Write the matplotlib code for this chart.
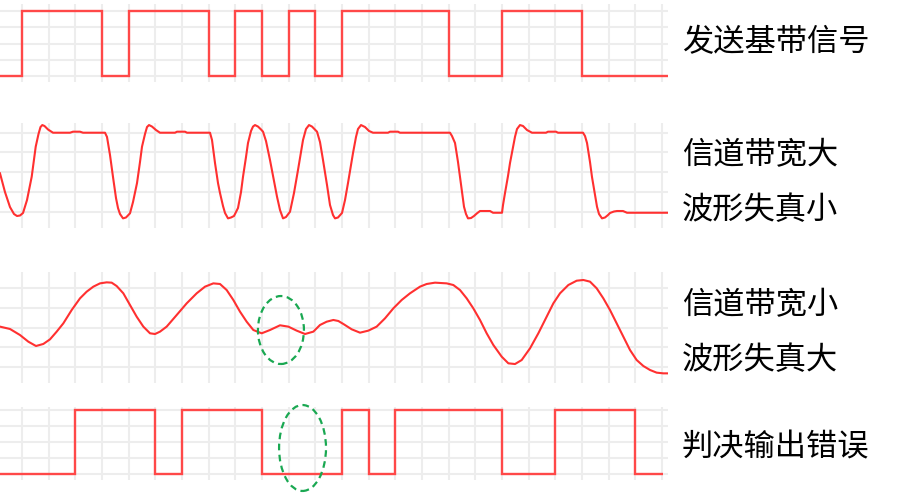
import matplotlib
matplotlib.use("Agg")
import matplotlib.pyplot as plt
from matplotlib.patches import Ellipse

plt.rcParams['font.family'] = ['Noto Sans CJK SC', 'DejaVu Sans']

W, H = 900, 493

# ---- data (time in bit periods, amplitude normalised 0..1) ----
tx_edges = [-0.825, 0, 3, 4, 7, 8, 9, 10, 11, 12, 16, 18, 21, 24.225]
tx_levels = [0, 1, 0, 1, 0, 1, 0, 1, 0, 1, 0, 1, 0]

# wide channel: small distortion
wide_t = [-0.825, -0.638, -0.45, -0.3, -0.188, -0.075, 0.038, 0.188, 0.364, 0.514,
          0.619, 0.694, 0.761, 0.844, 0.975, 1.163, 1.8, 1.913, 2.175, 2.288, 3.113,
          3.188, 3.3, 3.413, 3.525, 3.6, 3.675, 3.788, 3.9, 4.05, 4.163, 4.313, 4.425,
          4.5, 4.613, 4.688, 4.763, 4.875, 5.025, 5.175, 5.738, 5.813, 6.113, 6.188, 7.05,
          7.125, 7.238, 7.35, 7.425, 7.538, 7.613, 7.725, 7.838, 7.95, 8.1, 8.213, 8.288,
          8.4, 8.475, 8.588, 8.663, 8.738, 8.85, 8.963, 9.038,
          9.15, 9.3, 9.45, 9.563, 9.675, 9.788, 9.9, 10.05, 10.2, 10.35, 10.463, 10.538,
          10.65, 10.763, 10.875, 11.063,
          11.175, 11.288, 11.438, 11.55, 11.663, 11.738, 11.85, 12.0, 12.113, 12.225,
          12.338, 12.413, 12.525, 12.6, 12.713, 12.863, 13.013, 13.163, 13.725, 13.8,
          14.1, 14.175, 16.05,
          16.125, 16.238, 16.35, 16.425, 16.5, 16.575, 16.65, 16.725, 16.838, 16.95,
          17.063, 17.175, 17.55, 17.663, 18.0,
          18.038, 18.113, 18.225, 18.3, 18.413, 18.488, 18.563, 18.675, 18.788, 18.938,
          19.125, 19.65, 19.725, 20.025, 20.1, 21.038,
          21.113, 21.188, 21.3, 21.375, 21.488, 21.563, 21.638, 21.75, 21.863, 21.975,
          22.05, 22.2, 22.313, 22.538, 22.688, 24.225]
wide_v = [0.486, 0.249, 0.059, -0.029, -0.054, -0.048, -0.016, 0.148, 0.443, 0.823,
          0.984, 1.072, 1.097, 1.085, 1.041, 1.0, 1.0, 1.013, 1.013, 1.0, 1.0,
          0.946, 0.718, 0.439, 0.173, 0.047, -0.029, -0.084, -0.073, -0.020, 0.123, 0.363, 0.629,
          0.823, 0.984, 1.072, 1.097, 1.078, 1.034, 1.0, 1.0, 1.013, 1.013, 1.0, 1.0,
          0.908, 0.616, 0.363, 0.237, 0.072, -0.016, -0.084, -0.073, -0.054, 0.047, 0.249, 0.443,
          0.692, 0.870, 1.022, 1.078, 1.097, 1.078, 1.041, 1.013,
          0.895, 0.654, 0.389, 0.190, 0.022, -0.084, -0.067, 0.0, 0.237, 0.528, 0.756, 0.908,
          1.047, 1.097, 1.078, 1.013,
          0.882, 0.654, 0.338, 0.085, -0.042, -0.084, -0.073, -0.016, 0.148, 0.363,
          0.591, 0.743, 0.946, 1.047, 1.097, 1.072, 1.022, 1.0, 1.0, 1.013,
          1.013, 1.0, 1.0,
          0.958, 0.870, 0.629, 0.439, 0.249, 0.063, -0.029, -0.084, -0.080, -0.054,
          -0.020, 0.009, 0.009, -0.013, -0.013,
          0.085, 0.237, 0.452, 0.616, 0.819, 0.949, 1.047, 1.097, 1.085, 1.034,
          1.0, 1.0, 1.013, 1.013, 1.0, 1.0,
          0.958, 0.870, 0.629, 0.439, 0.211, 0.063, -0.029, -0.084, -0.073, -0.042,
          -0.016, 0.003, 0.009, 0.009, -0.013, -0.013]

# narrow channel: large distortion
narrow_t = [-0.825, -0.45, -0.075, 0.238, 0.525, 0.8, 1.05, 1.3, 1.55, 1.863,
            2.175, 2.425, 2.675, 2.925, 3.175, 3.363, 3.55, 3.8, 4.05, 4.3,
            4.55, 4.8, 4.988, 5.175, 5.425, 5.8, 6.175, 6.55, 6.863, 7.175,
            7.425, 7.675, 7.925, 8.175, 8.425, 8.675, 8.988, 9.3, 9.675, 9.988,
            10.3, 10.613, 10.925, 11.175, 11.425, 11.675, 11.863, 12.05, 12.363, 12.675,
            12.988, 13.3, 13.613, 13.925, 14.238, 14.55, 14.925, 15.175, 15.488, 15.925,
            16.175, 16.425, 16.675, 16.925, 17.175, 17.425, 17.675, 17.988, 18.238, 18.488,
            18.738, 19.05, 19.363, 19.675, 19.925, 20.175, 20.488, 20.8, 21.05, 21.3,
            21.55, 21.8, 22.05, 22.3, 22.55, 22.8, 23.05, 23.3, 23.55, 23.8,
            24.05, 24.225]
narrow_v = [0.511, 0.481, 0.404, 0.319, 0.264, 0.290, 0.349, 0.447, 0.553, 0.723,
            0.872, 0.957, 1.021, 1.063, 1.076, 1.072, 1.029, 0.936, 0.787, 0.638,
            0.511, 0.426, 0.417, 0.447, 0.511, 0.659, 0.808, 0.936, 1.021, 1.063,
            1.055, 0.978, 0.851, 0.702, 0.574, 0.468, 0.426, 0.468, 0.528, 0.511,
            0.460, 0.417, 0.447, 0.532, 0.574, 0.596, 0.583, 0.545, 0.477, 0.434,
            0.460, 0.511, 0.617, 0.744, 0.851, 0.936, 1.021, 1.055, 1.072, 1.063,
            1.042, 0.978, 0.872, 0.744, 0.596, 0.426, 0.277, 0.128, 0.043, 0.034,
            0.085, 0.234, 0.426, 0.638, 0.808, 0.936, 1.042, 1.097, 1.106, 1.085,
            1.0, 0.872, 0.723, 0.553, 0.383, 0.213, 0.085, 0.009, -0.042, -0.076,
            -0.085, -0.085]

rx_edges = [-0.825, 2, 5, 6, 9, 12, 13, 14, 18, 20, 23, 24.03]
rx_levels = [0, 1, 0, 1, 0, 1, 0, 1, 0, 1, 0]

labels = ["发送基带信号", "信道带宽大", "波形失真小", "信道带宽小", "波形失真大", "判决输出错误"]
label_y = [42, 155, 210, 305, 360, 447]

# ---- layout (pixel boxes of each strip) ----
panels = [(4, 82, -0.092, 1.108), (123, 228, -0.206, 1.123),
          (272, 383, -0.208, 1.208), (407, 480, -0.089, 1.047)]
grid_c = '#ededed'
red = '#ff3030'

fig = plt.figure(figsize=(W / 100, H / 100), dpi=100)
axes = []
for top, bot, ylo, yhi in panels:
    ax = fig.add_axes([0, 1 - bot / H, 668 / W, (bot - top) / H])
    ax.set_xlim(-0.825, 24.225)
    ax.set_ylim(ylo, yhi)
    ax.set_xticks(range(25))
    ax.set_yticks([0, 0.25, 0.5, 0.75, 1.0])
    ax.grid(True, color=grid_c, linewidth=1.5)
    ax.tick_params(length=0, labelbottom=False, labelleft=False)
    for s in ax.spines.values():
        s.set_visible(False)
    ax.set_axisbelow(True)
    axes.append(ax)

axes[0].stairs(tx_levels, tx_edges, baseline=None, color='#ff4848', linewidth=1.7)
axes[1].plot(wide_t, wide_v, color=red, linewidth=1.5)
axes[2].plot(narrow_t, narrow_v, color=red, linewidth=1.5)
axes[3].stairs(rx_levels, rx_edges, baseline=None, color='#ff4848', linewidth=1.7)

green = '#1aa852'
axes[2].add_patch(Ellipse((9.71, 0.468), 1.725, 0.867, fill=False, edgecolor=green,
                          linestyle=(0, (3, 2)), linewidth=1.6, clip_on=False, zorder=5))
axes[3].add_patch(Ellipse((10.52, 0.409), 1.76, 1.337, fill=False, edgecolor=green,
                          linestyle=(0, (3, 2)), linewidth=1.6, clip_on=False, zorder=5))

for txt, yy in zip(labels, label_y):
    fig.text(682 / W, 1 - yy / H, txt, fontsize=22.5, va='center', ha='left', color='black')

fig.savefig('out.png', dpi=100, facecolor='white')
